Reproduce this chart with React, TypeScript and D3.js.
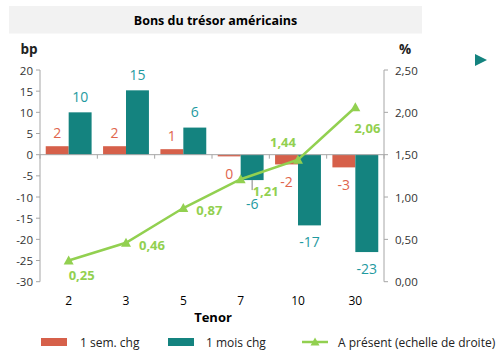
import React from "react";
import * as d3 from "d3";

const categories = ["2", "3", "5", "7", "10", "30"];
const weekChg = [2.0, 2.0, 1.3, -0.4, -2.3, -3.0];
const weekLabels = ["2", "2", "1", "0", "-2", "-3"];
const monthChg = [10.0, 15.2, 6.4, -6.0, -16.7, -23.0];
const monthLabels = ["10", "15", "6", "-6", "-17", "-23"];
const current = [0.25, 0.46, 0.87, 1.21, 1.44, 2.06];
const currentLabels = ["0,25", "0,46", "0,87", "1,21", "1,44", "2,06"];
const leftTicks = [20, 15, 10, 5, 0, -5, -10, -15, -20, -25, -30];
const rightTicks = [0, 0.5, 1, 1.5, 2, 2.5];
const fmtRight = (v: number) => v.toFixed(2).replace(".", ",");

const RED = "#d6604a";
const RED_TXT = "#e0654d";
const TEAL = "#14837f";
const TEAL_TXT = "#1f9aa0";
const GREEN = "#92d050";
const AXIS = "#a6a6a6";
const FONT = "'Open Sans', sans-serif";

export default function App() {
  const W = 504, H = 356;
  const x0 = 40, x1 = 384, yTop = 70, yBot = 281.7;
  const x = d3.scaleBand<string>().domain(categories).range([x0, x1]).paddingInner(0.2).paddingOuter(0.1);
  const inner = d3.scaleBand<string>().domain(["w", "m"]).range([0, x.bandwidth()]);
  const yL = d3.scaleLinear().domain([-30, 20]).range([yBot, yTop]);
  const yR = d3.scaleLinear().domain([0, 2.5]).range([yBot, yTop]);
  const cx = (c: string) => (x(c) as number) + x.bandwidth() / 2;
  const step = x.step();
  const line = d3.line<number>().x((_, i) => cx(categories[i])).y((d) => yR(d));
  // label nudges (Excel manual placements)
  const greenOff = [[13, 14], [26, 2], [26, 2], [25, 12], [-15, -18], [12, 21]];
  const monthOff = [0, 0, 0, 7, 0, 0];
  const tri = (px: number, py: number, s = 5) =>
    `M${px},${py - s}L${px + s},${py + s * 0.8}L${px - s},${py + s * 0.8}Z`;
  const zero = yL(0);

  return (
    <svg width={W} height={H} style={{ position: "absolute", left: 0, top: 0, background: "#fff" }} fontFamily={FONT}>
      <rect x={9} y={6} width={413} height={27.5} fill="#f2f2f2" />
      <text x={215.5} y={20} textAnchor="middle" dominantBaseline="central" fontWeight="bold" fontSize={12.5} fill="#000">
        Bons du trésor américains
      </text>
      <text x={29} y={49} textAnchor="middle" dominantBaseline="central" fontWeight="bold" fontSize={13.5} fill="#222">bp</text>
      <text x={405} y={49} textAnchor="middle" dominantBaseline="central" fontWeight="bold" fontSize={13.5} fill="#222">%</text>
      <path d="M475,54L487,60L475,66Z" fill={TEAL} />

      {/* left axis */}
      <line x1={x0} x2={x0} y1={yTop} y2={yBot} stroke={AXIS} />
      {leftTicks.map((t) => (
        <g key={"l" + t}>
          <line x1={x0 - 4} x2={x0} y1={yL(t)} y2={yL(t)} stroke={AXIS} />
          <text x={x0 - 7} y={yL(t)} textAnchor="end" dominantBaseline="central" fontSize={11.5} fill="#333">{t}</text>
        </g>
      ))}
      {/* right axis */}
      <line x1={x1} x2={x1} y1={yTop} y2={yBot} stroke={AXIS} />
      {rightTicks.map((t) => (
        <g key={"r" + t}>
          <line x1={x1} x2={x1 + 4} y1={yR(t)} y2={yR(t)} stroke={AXIS} />
          <text x={x1 + 11} y={yR(t)} textAnchor="start" dominantBaseline="central" fontSize={11.5} fill="#333">{fmtRight(t)}</text>
        </g>
      ))}

      {/* bars */}
      {categories.map((c, i) => {
        const bx = x(c) as number;
        const v1 = weekChg[i], v2 = monthChg[i];
        return (
          <g key={"b" + c}>
            <rect x={bx + (inner("w") as number)} width={inner.bandwidth()} y={Math.min(yL(v1), zero)} height={Math.abs(yL(v1) - zero)} fill={RED} />
            <rect x={bx + (inner("m") as number)} width={inner.bandwidth()} y={Math.min(yL(v2), zero)} height={Math.abs(yL(v2) - zero)} fill={TEAL} />
          </g>
        );
      })}

      {/* x axis */}
      <line x1={x0} x2={x1} y1={zero} y2={zero} stroke={AXIS} />
      {d3.range(categories.length + 1).map((k) => (
        <line key={"xt" + k} x1={x0 + k * step} x2={x0 + k * step} y1={zero} y2={zero + 4} stroke={AXIS} />
      ))}
      {categories.map((c) => (
        <text key={"xl" + c} x={cx(c)} y={300} textAnchor="middle" dominantBaseline="central" fontSize={12} fill="#000">{c}</text>
      ))}
      <text x={213} y={317} textAnchor="middle" dominantBaseline="central" fontWeight="bold" fontSize={13} fill="#000">Tenor</text>

      {/* leader line for -6 label */}
      <line
        x1={(x("7") as number) + (inner("m") as number) + inner.bandwidth() / 2}
        x2={(x("7") as number) + (inner("m") as number) + inner.bandwidth() / 2}
        y1={yL(monthChg[3])} y2={yL(monthChg[3]) + 10} stroke="#808080" />

      {/* bar labels */}
      {categories.map((c, i) => {
        const bx = x(c) as number;
        const wx = bx + (inner("w") as number) + inner.bandwidth() / 2;
        const mx = bx + (inner("m") as number) + inner.bandwidth() / 2;
        const v1 = weekChg[i], v2 = monthChg[i];
        const wy = v1 >= 0 ? yL(v1) - 14 : yL(v1) + 17;
        const my = v2 >= 0 ? yL(v2) - 16 : yL(v2) + 16 + monthOff[i];
        return (
          <g key={"lab" + c}>
            <text x={wx} y={wy} textAnchor="middle" dominantBaseline="central" fontSize={14} fill={RED_TXT}>{weekLabels[i]}</text>
            <text x={mx} y={my} textAnchor="middle" dominantBaseline="central" fontSize={14} fill={TEAL_TXT}>{monthLabels[i]}</text>
          </g>
        );
      })}

      {/* line series */}
      <path d={line(current) || ""} fill="none" stroke={GREEN} strokeWidth={2.5} />
      {current.map((v, i) => (
        <path key={"m" + i} d={tri(cx(categories[i]), yR(v))} fill={GREEN} />
      ))}
      {current.map((v, i) => (
        <text key={"gl" + i} x={cx(categories[i]) + greenOff[i][0]} y={yR(v) + greenOff[i][1]} textAnchor="middle" dominantBaseline="central" fontWeight="bold" fontSize={13} fill={GREEN}>
          {currentLabels[i]}
        </text>
      ))}

      {/* legend */}
      <rect x={41} y={338} width={26} height={8} fill={RED} />
      <text x={80} y={342} dominantBaseline="central" fontSize={12} fill="#222">1 sem. chg</text>
      <rect x={168} y={338} width={26} height={8} fill={TEAL} />
      <text x={206} y={342} dominantBaseline="central" fontSize={12} fill="#222">1 mois chg</text>
      <line x1={302} x2={328} y1={342} y2={342} stroke={GREEN} strokeWidth={2.5} />
      <path d={tri(315, 342, 4.5)} fill={GREEN} />
      <text x={338} y={342} dominantBaseline="central" fontSize={12} fill="#222">A présent (echelle de droite)</text>
    </svg>
  );
}
